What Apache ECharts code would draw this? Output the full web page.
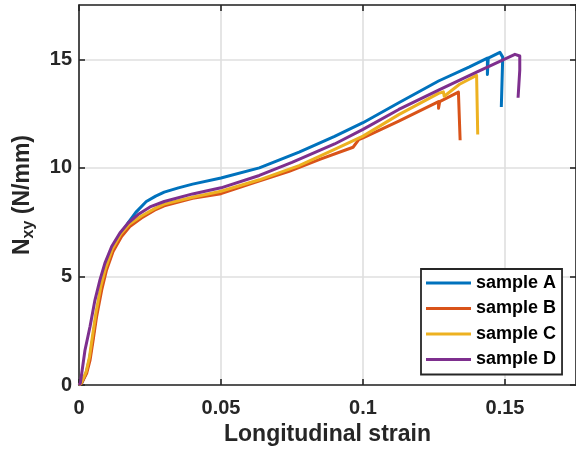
<!DOCTYPE html>
<html>
<head>
<meta charset="utf-8">
<script src="https://cdn.jsdelivr.net/npm/echarts@6/dist/echarts.min.js"></script>
<style>
  html, body { margin: 0; padding: 0; background: #fff; }
  #chart { width: 576px; height: 455px; }
</style>
</head>
<body>
<div id="chart"></div>
<script>
// sample names and MATLAB default colours
var sampleNames = ['sample A', 'sample B', 'sample C', 'sample D'];
var sampleColors = ['#0072BD', '#D95319', '#EDB120', '#7E2F8E'];

// tick values
var xTicks = [0, 0.05, 0.1, 0.15];
var yTicks = [0, 5, 10, 15];

// sample A
var strainA = [0, 0.001, 0.0025, 0.0037, 0.0048, 0.006, 0.0077, 0.0094, 0.0117, 0.0145, 0.0172, 0.02, 0.0237, 0.027, 0.03, 0.035, 0.04, 0.05, 0.0635, 0.0775, 0.09, 0.1, 0.1126, 0.1266, 0.1375, 0.1438, 0.1438, 0.1441, 0.1482, 0.1492, 0.1487];
var nxyA = [0, 0.1, 0.55, 1.2, 2.1, 3.2, 4.4, 5.35, 6.2, 6.9, 7.45, 7.95, 8.45, 8.7, 8.88, 9.08, 9.25, 9.53, 10.0, 10.72, 11.45, 12.08, 13.0, 14.0, 14.65, 15.05, 14.3, 15.05, 15.32, 15.1, 12.8];

// sample B
var strainB = [0, 0.0009, 0.0027, 0.0039, 0.005, 0.0062, 0.008, 0.0097, 0.012, 0.015, 0.0179, 0.022, 0.0266, 0.03, 0.04, 0.05, 0.062, 0.074, 0.085, 0.0965, 0.0985, 0.1, 0.1126, 0.1266, 0.1266, 0.127, 0.1336, 0.1342, 0.1342];
var nxyB = [0, 0.08, 0.54, 1.15, 2.08, 3.15, 4.38, 5.3, 6.15, 6.84, 7.3, 7.69, 8.05, 8.25, 8.6, 8.81, 9.33, 9.84, 10.4, 10.95, 11.3, 11.38, 12.15, 13.05, 12.75, 13.05, 13.49, 13.4, 11.27];

// sample C
var strainC = [0, 0.0008, 0.0025, 0.0037, 0.0048, 0.006, 0.0077, 0.0094, 0.0117, 0.0147, 0.0177, 0.022, 0.0266, 0.03, 0.04, 0.05, 0.0635, 0.0775, 0.09, 0.1, 0.1126, 0.1266, 0.1283, 0.1286, 0.134, 0.140, 0.1404];
var nxyC = [0, 0.1, 0.6, 1.3, 2.3, 3.35, 4.55, 5.4, 6.25, 6.95, 7.4, 7.78, 8.12, 8.33, 8.65, 8.92, 9.45, 10.1, 10.85, 11.46, 12.45, 13.43, 13.5, 13.3, 13.85, 14.26, 11.54];

// sample D
var strainD = [0, 0.0005, 0.0021, 0.0039, 0.0056, 0.0074, 0.0091, 0.0115, 0.0144, 0.0173, 0.0208, 0.025, 0.03, 0.04, 0.05, 0.0635, 0.075, 0.09, 0.1, 0.1126, 0.1266, 0.14, 0.1535, 0.1552, 0.1552, 0.1546];
var nxyD = [0, 0.1, 1.6, 2.7, 3.9, 4.85, 5.6, 6.38, 7.0, 7.46, 7.85, 8.2, 8.45, 8.8, 9.08, 9.65, 10.25, 11.1, 11.77, 12.69, 13.58, 14.41, 15.23, 15.15, 14.5, 13.23];

var strains = [strainA, strainB, strainC, strainD];
var nxys = [nxyA, nxyB, nxyC, nxyD];

var font = 'Liberation Sans, Arial, Helvetica, sans-serif';
var axisColor = '#262626';

function zip(xs, ys) {
    var out = [];
    for (var i = 0; i < xs.length; i++) out.push([xs[i], ys[i]]);
    return out;
}

var series = [];
for (var i = 0; i < sampleNames.length; i++) {
    series.push({
        name: sampleNames[i],
        type: 'line',
        data: zip(strains[i], nxys[i]),
        symbol: 'none',
        showSymbol: false,
        lineStyle: { width: 3, color: sampleColors[i], join: 'round' },
        itemStyle: { color: sampleColors[i] },
        z: 3 + i
    });
}

// box axes (top and right) only carry ticks
function boxAxis(pos, max, interval) {
    return {
        type: 'value', min: 0, max: max, interval: interval,
        position: pos,
        axisLine: { onZero: false, lineStyle: { color: axisColor, width: 1.6 } },
        axisTick: { inside: true, length: 6, lineStyle: { color: axisColor, width: 1.6 } },
        axisLabel: { show: false },
        splitLine: { show: false }
    };
}

var myChart = echarts.init(document.getElementById('chart'));
var option = {
    animation: false,
    grid: { left: 79, top: 5, width: 499, height: 380 },
    legend: {
        data: sampleNames,
        orient: 'vertical',
        left: 421,
        top: 269,
        icon: 'rect',
        itemWidth: 45,
        itemHeight: 3,
        itemGap: 5.5,
        padding: [4, 6, 5, 5],
        backgroundColor: '#fff',
        borderColor: axisColor,
        borderWidth: 1.8,
        borderRadius: 0,
        textStyle: { fontFamily: font, fontWeight: 'bold', fontSize: 18, lineHeight: 20, color: '#000' },
        z: 20
    },
    xAxis: [
        {
            type: 'value', min: 0, max: 0.175, interval: 0.05,
            position: 'bottom',
            name: 'Longitudinal strain',
            nameLocation: 'middle',
            nameGap: 34,
            nameTextStyle: { fontFamily: font, fontWeight: 'bold', fontSize: 23, color: axisColor },
            axisLine: { onZero: false, lineStyle: { color: axisColor, width: 1.6 } },
            axisTick: { inside: true, length: 6, lineStyle: { color: axisColor, width: 1.6 } },
            axisLabel: {
                margin: 13, showMaxLabel: false,
                fontFamily: font, fontWeight: 'bold', fontSize: 20, color: axisColor,
                formatter: function (v) { return xTicks.indexOf(v) >= 0 ? String(v) : ''; }
            },
            splitLine: { show: true, lineStyle: { color: '#dfdfdf', width: 1.6 } }
        },
        boxAxis('top', 0.175, 0.05)
    ],
    yAxis: [
        {
            type: 'value', min: 0, max: 17.5, interval: 5,
            position: 'left',
            name: '{n|N}{s|xy}{n| (N/mm)}',
            nameLocation: 'middle',
            nameGap: 42,
            nameRotate: 90,
            nameTextStyle: {
                fontFamily: font, fontWeight: 'bold', fontSize: 23, color: axisColor,
                rich: {
                    n: { fontFamily: font, fontWeight: 'bold', fontSize: 23, lineHeight: 28, color: axisColor },
                    s: { fontFamily: font, fontWeight: 'bold', fontSize: 16, lineHeight: 18, padding: [12, 0, 0, 0], color: axisColor }
                }
            },
            axisLine: { onZero: false, lineStyle: { color: axisColor, width: 1.6 } },
            axisTick: { inside: true, length: 6, lineStyle: { color: axisColor, width: 1.6 } },
            axisLabel: {
                margin: 7, showMaxLabel: false,
                fontFamily: font, fontWeight: 'bold', fontSize: 20, color: axisColor,
                formatter: function (v) { return yTicks.indexOf(v) >= 0 ? String(v) : ''; }
            },
            splitLine: { show: true, lineStyle: { color: '#dfdfdf', width: 1.6 } }
        },
        boxAxis('right', 17.5, 5)
    ],
    series: series
};
myChart.setOption(option);
</script>
</body>
</html>
